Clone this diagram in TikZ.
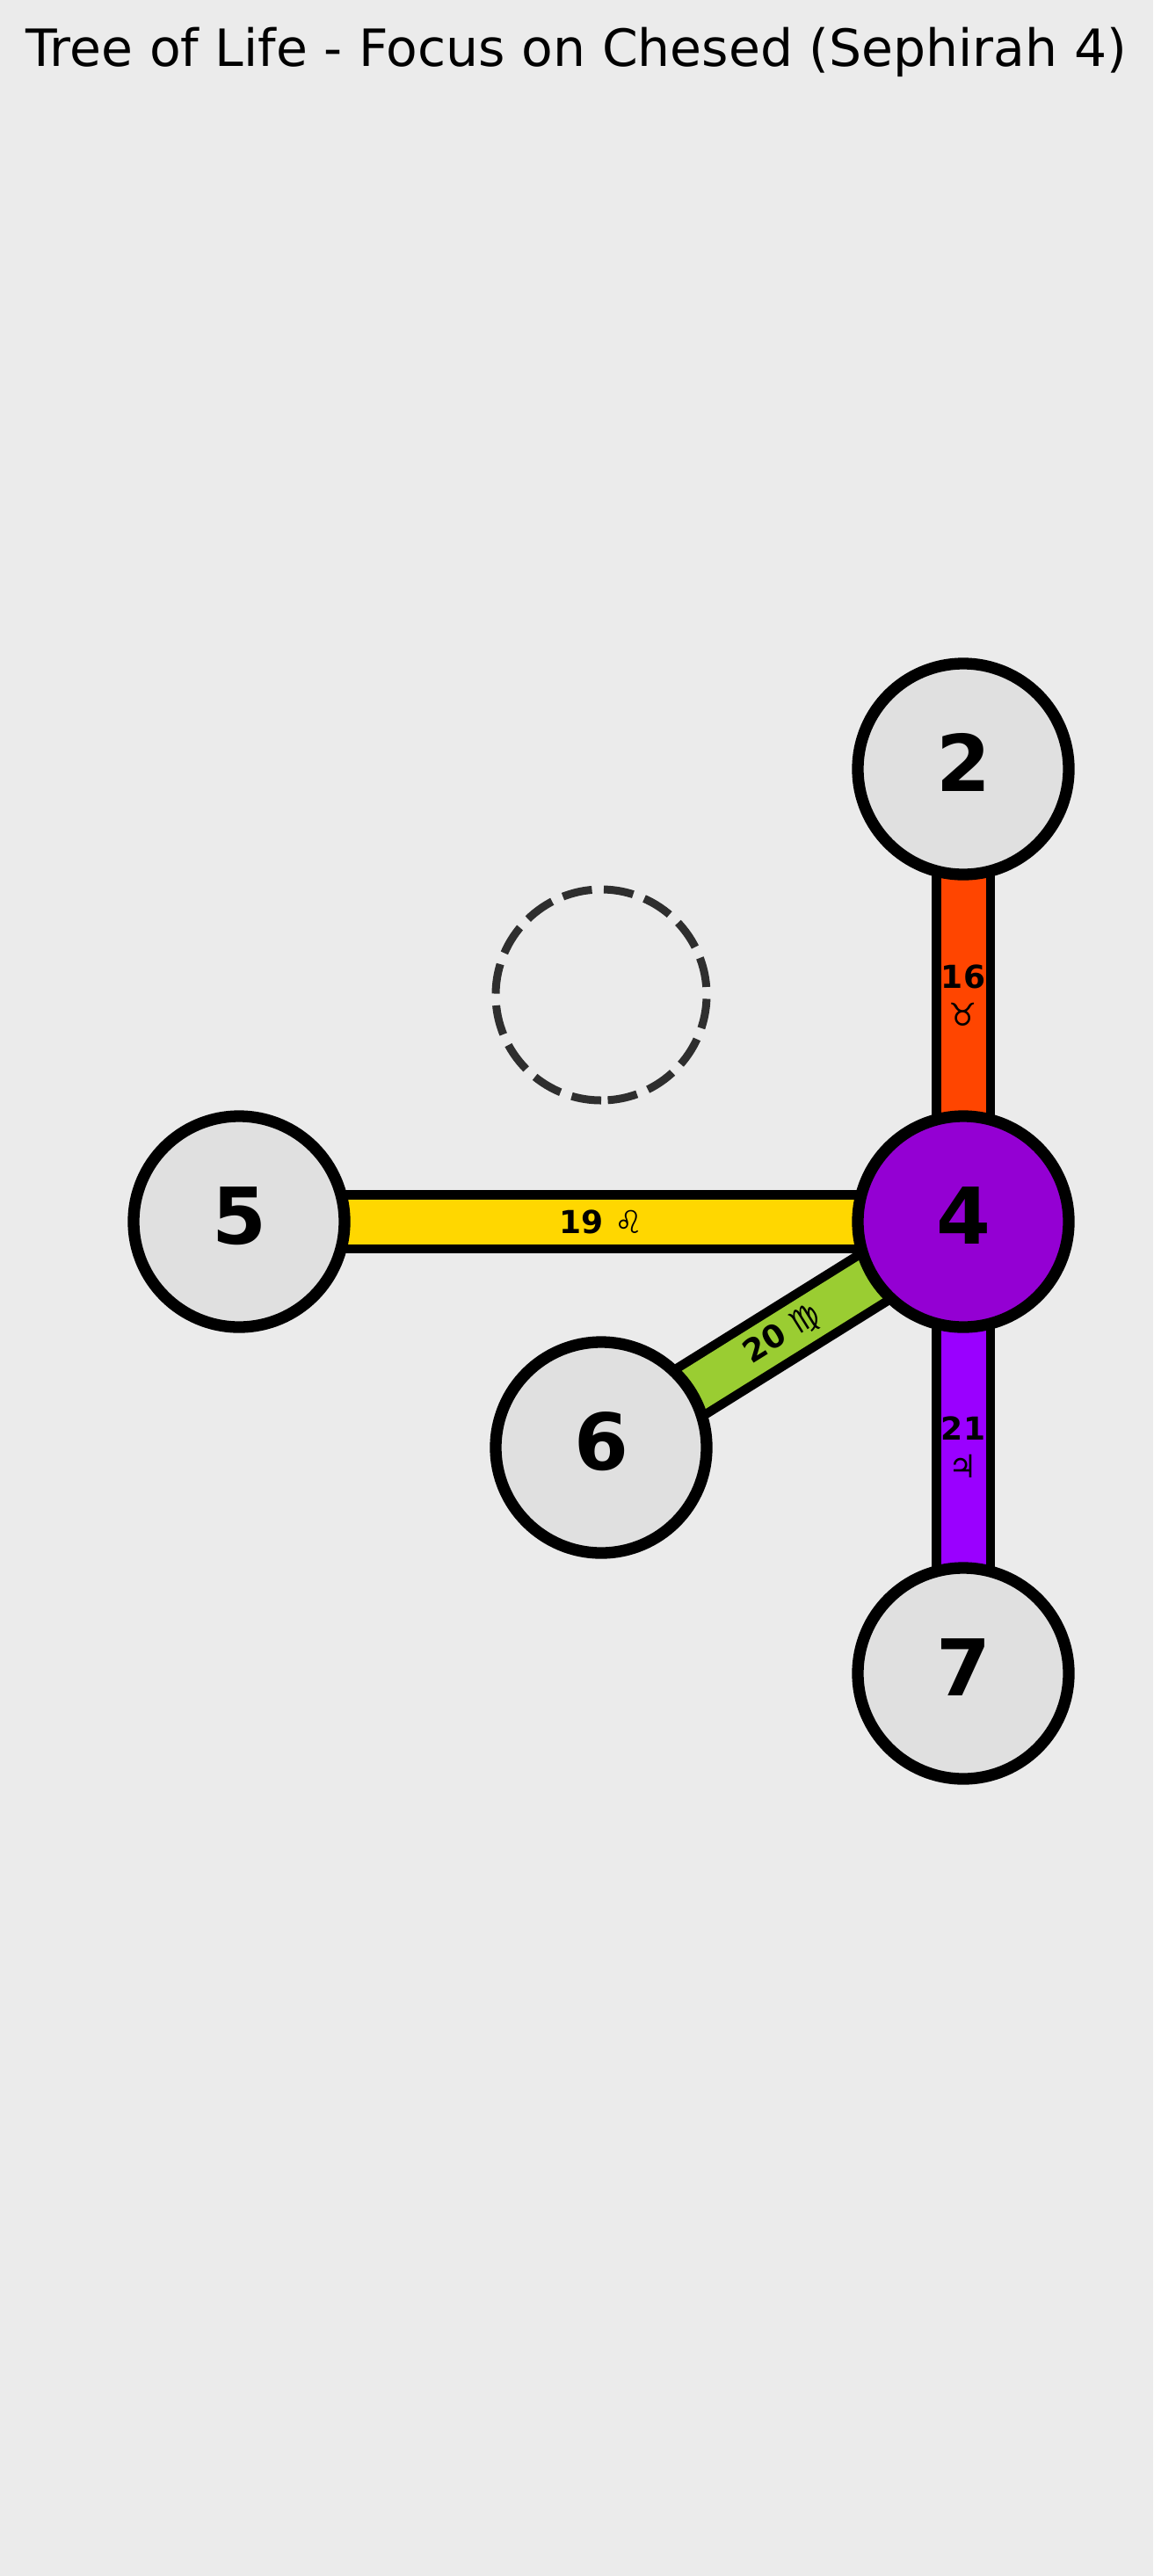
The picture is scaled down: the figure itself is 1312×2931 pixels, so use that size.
\documentclass[tikz,border=0pt]{standalone}
\usepackage{fontspec}
\usetikzlibrary{calc}
\setmainfont{DejaVu Sans}
\newfontfamily\symfont{DejaVu Sans}
\definecolor{bgcol}{HTML}{EBEBEB}
\definecolor{nodefill}{HTML}{E0E0E0}
\definecolor{chesed}{HTML}{9400D3}
\definecolor{p16}{HTML}{FF4500}
\definecolor{p19}{HTML}{FFD700}
\definecolor{p20}{HTML}{9ACD32}
\definecolor{p21}{HTML}{9A00FF}
\definecolor{dashcol}{HTML}{2E2E2E}
\pgfdeclarelayer{bglayer}
\pgfdeclarelayer{back}
\pgfsetlayers{bglayer,back,main}
\tikzset{
  sephira/.style={circle, draw=black, line width=13.3pt, fill=nodefill, minimum size=240pt, inner sep=0pt},
  ghost/.style={circle, minimum size=240pt, inner sep=0pt, outer sep=0pt},
  ghostline/.style={draw=dashcol, line width=9pt, dash pattern=on 34pt off 13.5pt},
  digit/.style={anchor=base, inner sep=0pt, font=\fontsize{89}{100}\selectfont\bfseries},
  titletext/.style={anchor=base, inner sep=0pt, font=\fontsize{58.4}{70}\selectfont},
  barout/.style={line width=72pt, draw=black},
  barin/.style={line width=51pt},
  plabel/.style={inner sep=0pt, align=center, font=\fontsize{36}{43}\selectfont\bfseries},
}
\newcommand{\zs}[1]{{\symfont\mdseries #1}}
\begin{document}
\begin{tikzpicture}[x=1pt,y=-1pt]
\begin{pgfonlayer}{bglayer}
\fill[bgcol] (0,0) rectangle (1312,2931);
\end{pgfonlayer}
\useasboundingbox (0,0) rectangle (1312,2931);

\node[titletext] (title) at (656,75) {Tree of Life - Focus on Chesed (Sephirah 4)};

\node[sephira] (n2) at (1096,875) {};
\node[sephira, fill=chesed] (n4) at (1096,1390) {};
\node[sephira] (n5) at (272,1390) {};
\node[sephira] (n6) at (684,1647) {};
\node[sephira] (n7) at (1096,1904) {};
\node[ghost] (n3) at (684,1132) {};
\draw[ghostline] ([yshift=-120pt]n3.center) arc[start angle=90, end angle=450, radius=120];

\begin{pgfonlayer}{back}
\draw[barout] (n2.center) -- (n4.center);
\draw[barin, p16] (n2.center) -- (n4.center);
\draw[barout] (n5.center) -- (n4.center);
\draw[barin, p19] (n5.center) -- (n4.center);
\draw[barout] (n6.center) -- (n4.center);
\draw[barin, p20] (n6.center) -- (n4.center);
\draw[barout] (n4.center) -- (n7.center);
\draw[barin, p21] (n4.center) -- (n7.center);
\end{pgfonlayer}

\node[digit] (d2) at ([yshift=-25pt]n2.center) {2};
\node[digit] (d4) at ([yshift=-25pt]n4.center) {4};
\node[digit] (d5) at ([yshift=-25pt]n5.center) {5};
\node[digit] (d6) at ([yshift=-25pt]n6.center) {6};
\node[digit] (d7) at ([yshift=-25pt]n7.center) {7};

\node[plabel] (l16) at ($(n2.center)!0.5!(n4.center)$) {16\\\zs{♉}};
\node[plabel] (l19) at ($(n5.center)!0.5!(n4.center)$) {19 \zs{♌}};
\node[plabel, rotate=31.95] (l20) at ($(n6.center)!0.5!(n4.center)$) {20 \zs{♍}};
\node[plabel] (l21) at ($(n4.center)!0.5!(n7.center)$) {21\\\zs{♃}};
\end{tikzpicture}
\end{document}
